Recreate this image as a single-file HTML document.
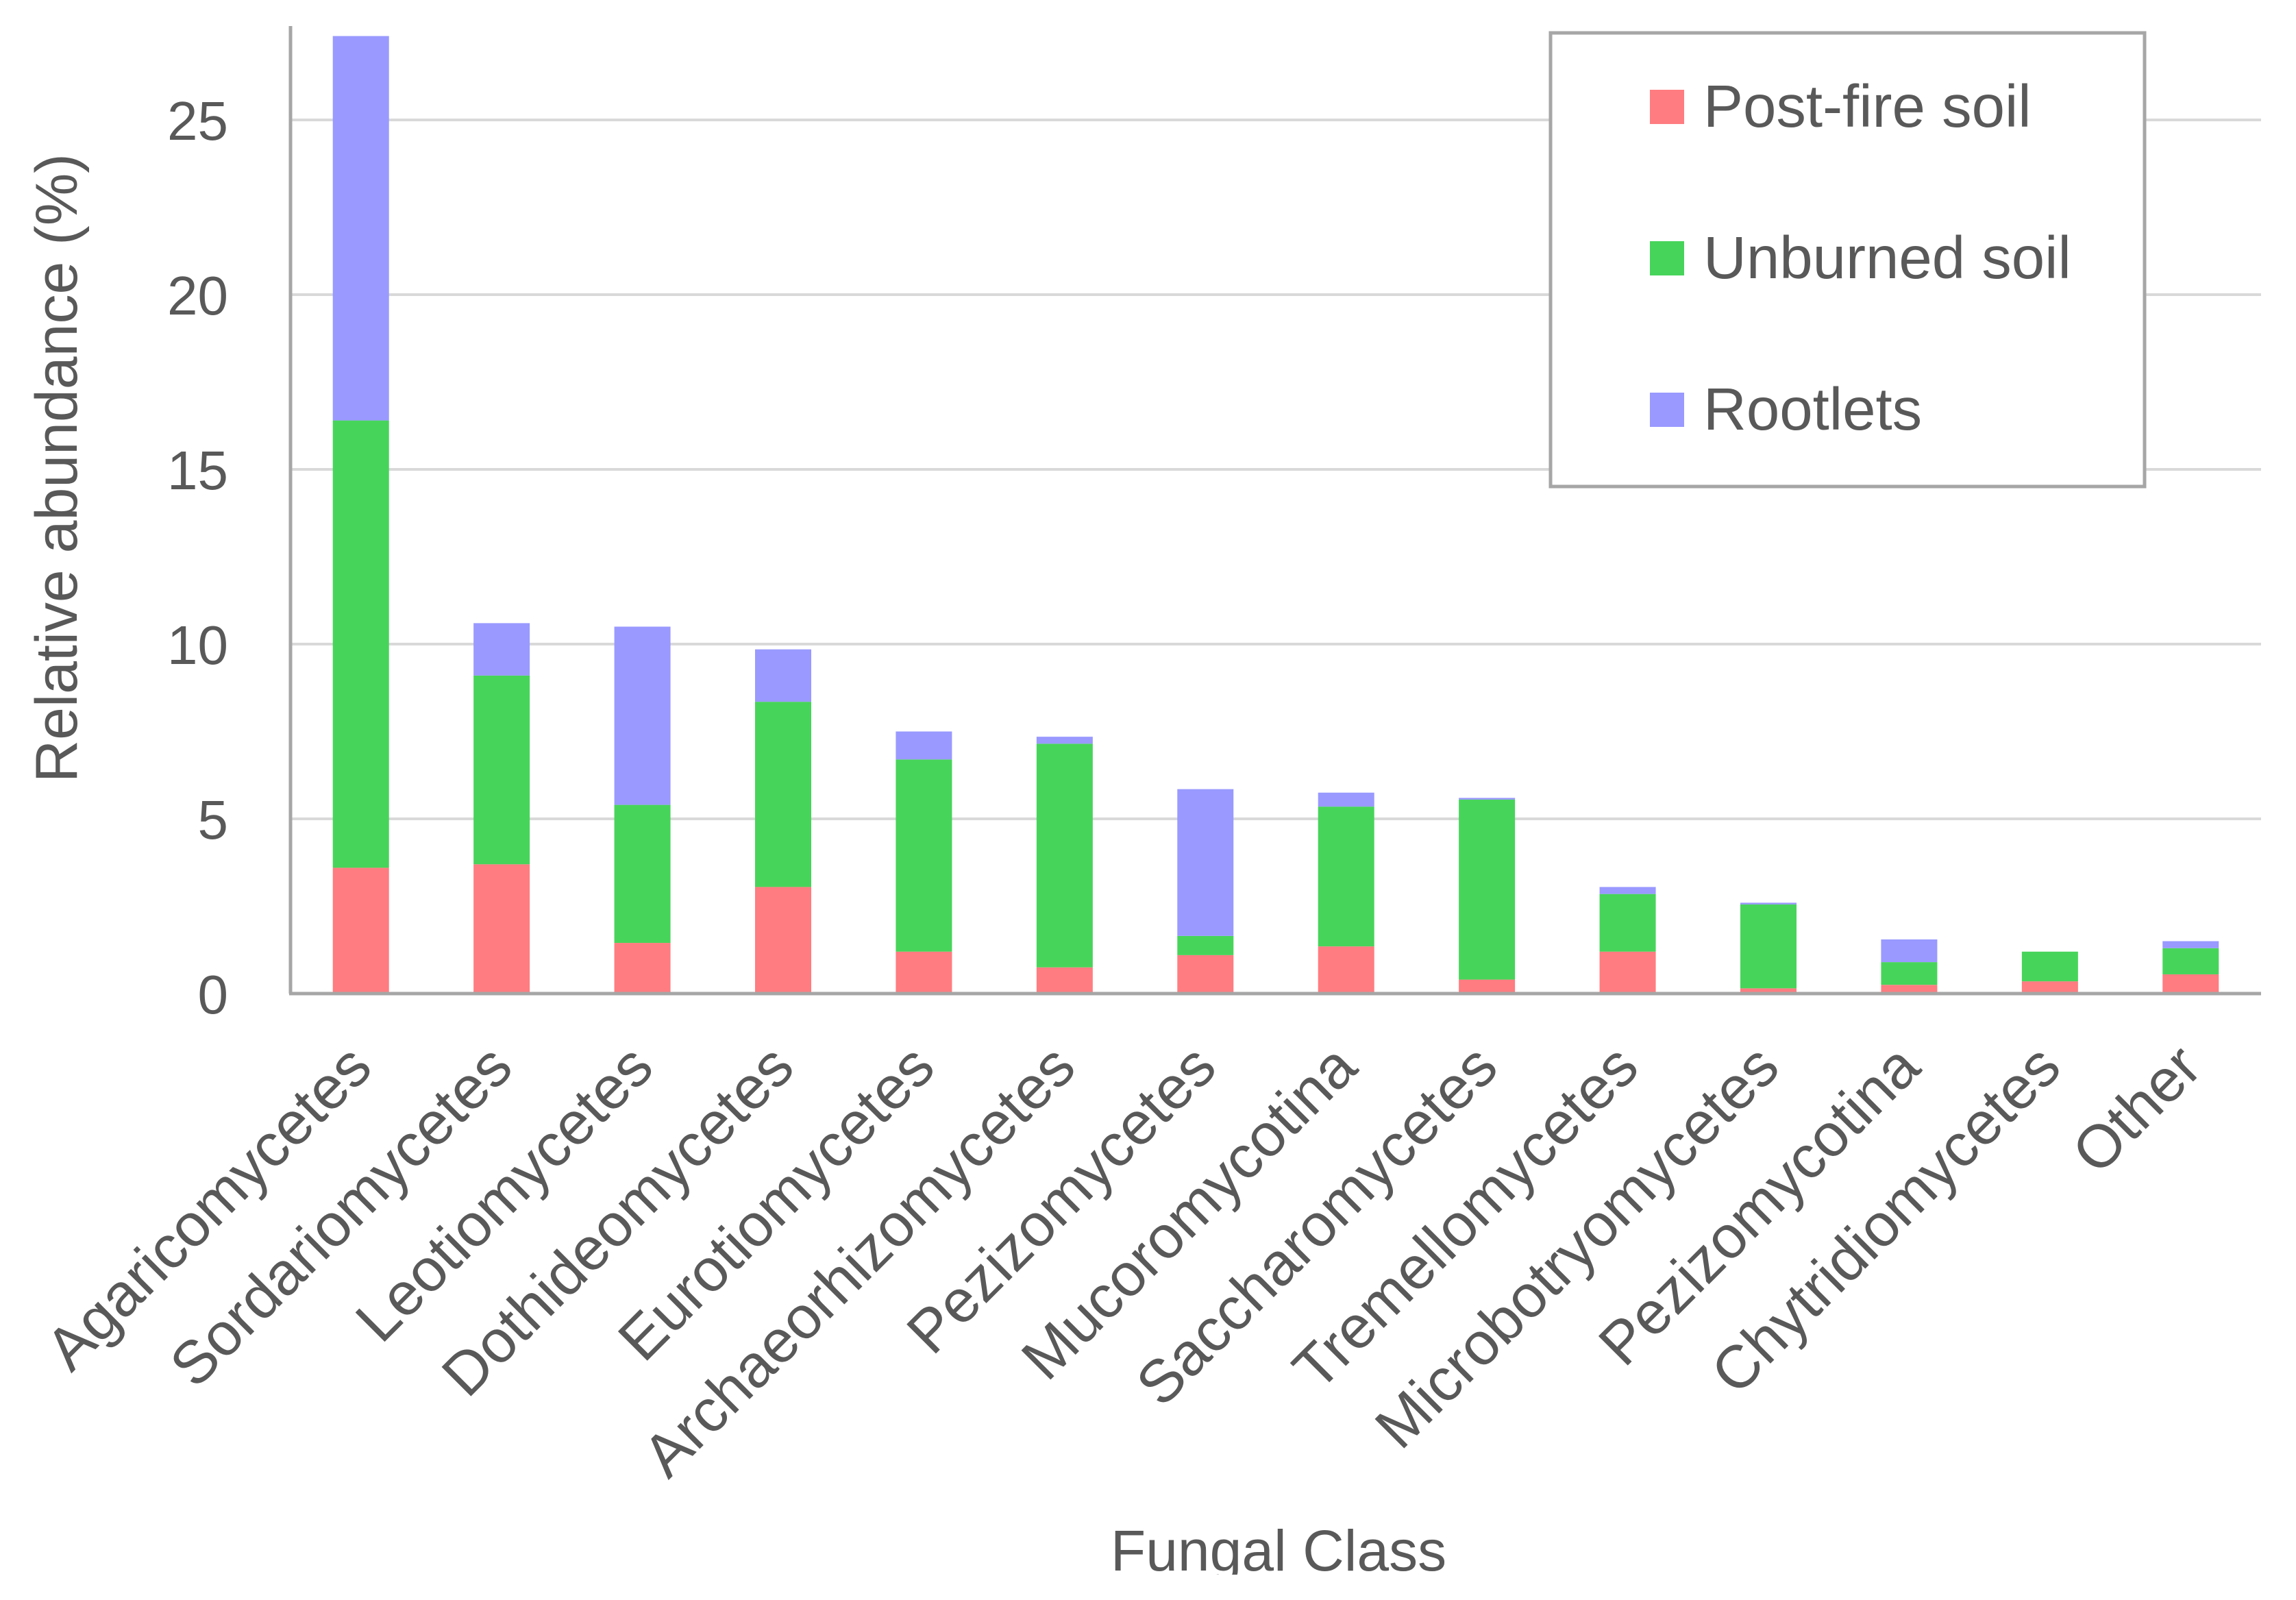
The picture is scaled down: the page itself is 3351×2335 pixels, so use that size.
<!DOCTYPE html>
<html><head><meta charset="utf-8"><style>
html,body{margin:0;padding:0;background:#fff;}
svg{display:block;font-family:"Liberation Sans",sans-serif;}
</style></head><body>
<svg id="chart" width="3351" height="2335" viewBox="0 0 3351 2335" xmlns="http://www.w3.org/2000/svg">
<rect x="0" y="0" width="3351" height="2335" fill="#fff"/>
<g id="grid"></g>
<g id="bars"></g>
<g id="yticks"></g>
<g id="xticks"></g>
<line x1="424" y1="38" x2="424" y2="1450" stroke="#a6a6a6" stroke-width="5"/>
<line x1="422" y1="1450" x2="3300" y2="1450" stroke="#a6a6a6" stroke-width="5"/>
<text transform="translate(112,683) rotate(-90)" text-anchor="middle" font-size="86" fill="#595959">Relative abundance (%)</text>
<text x="1866" y="2292" text-anchor="middle" font-size="84" fill="#595959">Fungal Class</text>
<rect x="0" y="2298" width="3351" height="37" fill="#fff"/>
<g>
<rect x="2263" y="48" width="867" height="662" fill="#fff" stroke="#a6a6a6" stroke-width="5"/>
<rect x="2408" y="131" width="50" height="50" fill="#FF7C80"/>
<text x="2486" y="185" font-size="87" fill="#595959">Post-fire soil</text>
<rect x="2408" y="352" width="50" height="50" fill="#47D45A"/>
<text x="2486" y="406" font-size="87" fill="#595959">Unburned soil</text>
<rect x="2408" y="573" width="50" height="50" fill="#9999FF"/>
<text x="2486" y="627" font-size="87" fill="#595959">Rootlets</text>
</g>
</svg>
<script>
const categories = ["Agaricomycetes","Sordariomycetes","Leotiomycetes","Dothideomycetes","Eurotiomycetes","Archaeorhizomycetes","Pezizomycetes","Mucoromycotina","Saccharomycetes","Tremellomycetes","Microbotryomycetes","Pezizomycotina","Chytridiomycetes","Other"];
const postFire = [3.6,3.7,1.45,3.05,1.2,0.75,1.1,1.35,0.4,1.2,0.15,0.25,0.35,0.55];
const unburned = [12.8,5.4,3.95,5.3,5.5,6.4,0.55,4.0,5.15,1.65,2.4,0.65,0.85,0.75];
const rootlets = [11.0,1.5,5.1,1.5,0.8,0.2,4.2,0.4,0.05,0.2,0.05,0.65,0,0.2];
const yTicks = [0,5,10,15,20,25];

const NS="http://www.w3.org/2000/svg";
const X0=424, X1=3300, Y0=1450, PXU=51.0;
const band=(X1-X0)/categories.length, barW=82;
function xc(i){return X0+band*(i+0.5);}
function y(v){return Y0-v*PXU;}
function mk(tag,attrs,parent){const e=document.createElementNS(NS,tag);for(const k in attrs)e.setAttribute(k,attrs[k]);parent.appendChild(e);return e;}

const grid=document.getElementById('grid'), yt=document.getElementById('yticks');
yTicks.forEach(t=>{
  if(t>0){const l=mk('line',{x1:X0,x2:X1,y1:y(t),y2:y(t),stroke:'#d9d9d9','stroke-width':4},grid);
  
  }
  const tx=mk('text',{x:333,y:y(t)+29,'text-anchor':'end','font-size':80,fill:'#595959'},yt);
  tx.textContent=t;
  
  
});

const bars=document.getElementById('bars'), xt=document.getElementById('xticks');
const series=[[postFire,'#FF7C80','post-fire'],[unburned,'#47D45A','unburned'],[rootlets,'#9999FF','rootlets']];
categories.forEach((c,i)=>{
  let base=0;
  series.forEach(([arr,col,nm])=>{
    const v=arr[i];
    if(v>0){
      const r=mk('rect',{x:xc(i)-barW/2,y:y(base+v),width:barW,height:v*PXU,fill:col},bars);
      
      
    }
    base+=v;
  });
  const ax=xc(i)+20, ay=1562;
  const t=mk('text',{transform:`translate(${ax},${ay}) rotate(-45)`,'text-anchor':'end','font-size':88,fill:'#595959'},xt);
  t.textContent=c;
  
  
});
</script>
</body></html>
